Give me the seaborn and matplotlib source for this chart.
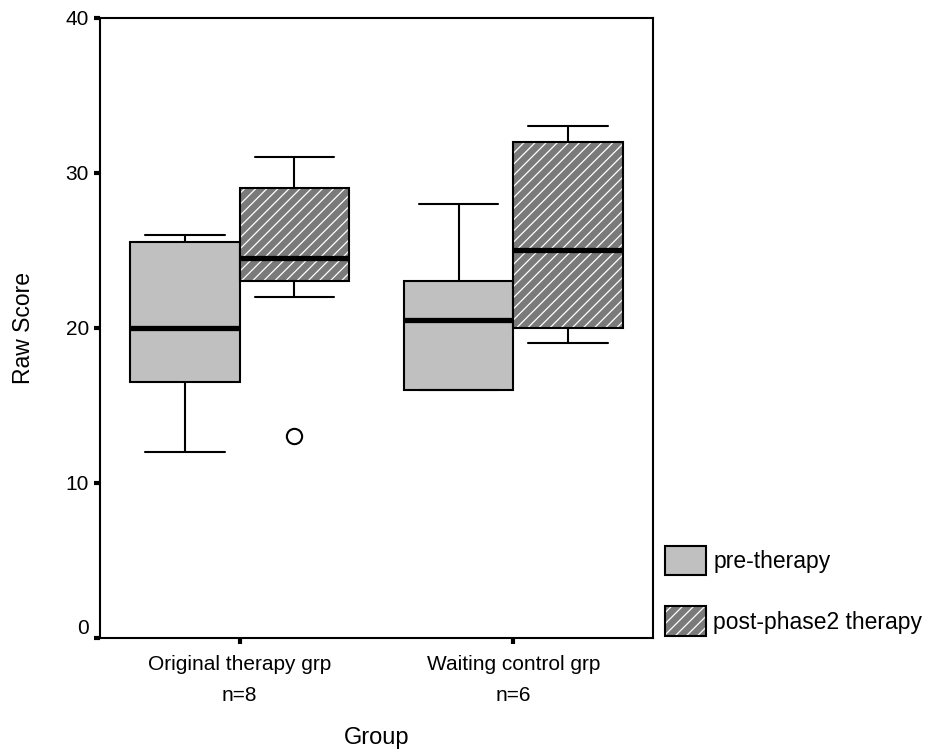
import matplotlib.pyplot as plt
import seaborn as sns
from matplotlib.patches import Patch, PathPatch

# ----------------------------
# Data
# ----------------------------
groups = ["Original therapy grp", "Waiting control grp"]
group_n = [8, 6]
phases = ["pre-therapy", "post-phase2 therapy"]

# [pre, post] per group
whisker_low = [[12, 22], [16, 19]]
q1 = [[16.5, 23], [16, 20]]
median = [[20, 24.5], [20.5, 25]]
q3 = [[25.5, 29], [23, 32]]
whisker_high = [[26, 31], [28, 33]]
outliers = [[[], [13]], [[], []]]

pre_color = "#c0c0c0"
post_color = "#7a7a7a"

# ----------------------------
# Style
# ----------------------------
sns.set_style("white")
plt.rcParams["font.family"] = ["Liberation Sans", "DejaVu Sans"]
plt.rcParams["hatch.linewidth"] = 0.9
plt.rcParams["text.color"] = "black"
plt.rcParams["axes.labelcolor"] = "black"
plt.rcParams["xtick.color"] = "black"
plt.rcParams["ytick.color"] = "black"

fig = plt.figure(figsize=(9.29, 7.53), dpi=100)
ax = fig.add_axes([0.1076, 0.1527, 0.5953, 0.824])

stats = []
positions = []
offsets = [-0.2, 0.2]
for gi, g in enumerate(groups):
    for pi, p in enumerate(phases):
        stats.append({
            "med": median[gi][pi],
            "q1": q1[gi][pi],
            "q3": q3[gi][pi],
            "whislo": whisker_low[gi][pi],
            "whishi": whisker_high[gi][pi],
            "fliers": outliers[gi][pi],
            "label": f"{g} {p}",
        })
        positions.append(gi + offsets[pi])

bp = ax.bxp(
    stats,
    positions=positions,
    widths=0.4,
    capwidths=0.29,
    patch_artist=True,
    showfliers=True,
    boxprops=dict(linewidth=1.5, edgecolor="black", zorder=2),
    whiskerprops=dict(linewidth=1.5, color="black"),
    capprops=dict(linewidth=1.5, color="black"),
    medianprops=dict(linewidth=3.8, color="black", solid_capstyle="butt", zorder=3),
    flierprops=dict(marker="o", markerfacecolor="none", markeredgecolor="black",
                    markersize=11, markeredgewidth=1.5),
)

for i, box in enumerate(bp["boxes"]):
    if i % 2 == 0:
        box.set_facecolor(pre_color)
    else:
        box.set_facecolor(post_color)
        box.set_edgecolor("white")
        box.set_hatch("///")
        box.set_linewidth(0)
        ax.add_patch(PathPatch(box.get_path(), facecolor="none",
                               edgecolor="black", linewidth=1.5, zorder=2.5))

ax.set_xlim(-0.51, 1.51)
ax.set_ylim(0, 40)
ax.set_yticks([0, 10, 20, 30, 40])
ax.set_xticks([0, 1])
ax.set_xticklabels([f"{g}\nn={n}" for g, n in zip(groups, group_n)],
                   linespacing=1.8)

for s in ax.spines.values():
    s.set_visible(True)
    s.set_linewidth(1.5)
    s.set_color("black")

ax.tick_params(axis="both", direction="out", length=4, width=3,
               color="black", labelsize=15, left=True, bottom=True)
ax.tick_params(axis="x", pad=8)
ax.tick_params(axis="y", pad=4)
# SPSS draws the "0" label sitting just above the axis line
ax.get_yticklabels()[0].set_verticalalignment("bottom")

ax.set_xlabel("Group", fontsize=17, labelpad=16)
ax.set_ylabel("Raw Score", fontsize=16.5, labelpad=22)

# ----------------------------
# Legend
# ----------------------------
handles = [
    Patch(facecolor=pre_color, edgecolor="black", linewidth=1.5),
    (Patch(facecolor=post_color, edgecolor="white", hatch="///", linewidth=0),
     Patch(facecolor="none", edgecolor="black", linewidth=1.5)),
]
fig.legend(handles, phases, loc="upper left",
           bbox_to_anchor=(665 / 929, 1 - 546 / 753),
           frameon=False, fontsize=16.5, borderpad=0, borderaxespad=0,
           handlelength=1.8, handleheight=1.6, handletextpad=0.3,
           labelspacing=1.35)

fig.savefig("out.png", dpi=100)
plt.close(fig)
